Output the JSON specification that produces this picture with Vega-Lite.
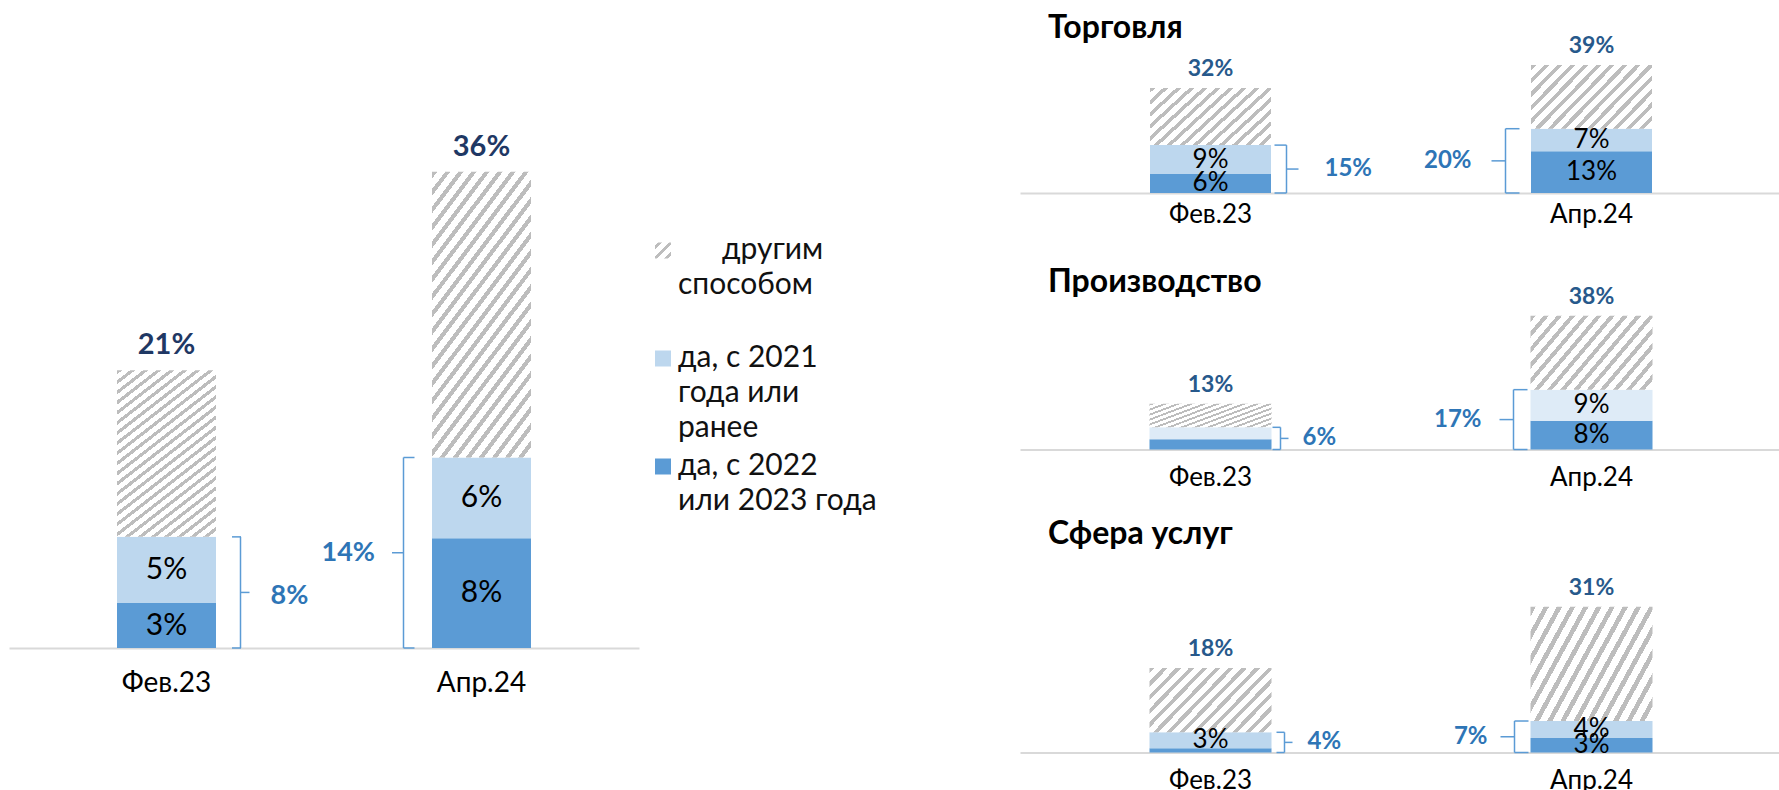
{
"$schema": "https://vega.github.io/schema/vega-lite/v6.json",
"background": "white",
"padding": {"left": 9, "top": 12, "right": 0, "bottom": 0},
"params": [
{"name": "hatchM", "value": {"gradient": "linear", "x1": 0, "y1": 0, "x2": 0.555, "y2": 1.205, "stops": [
{"offset":0,"color":"#bdbdbd"},{"offset":0.0167,"color":"#bdbdbd"},{"offset":0.0167,"color":"#ffffff"},{"offset":0.0417,"color":"#ffffff"},
{"offset":0.0417,"color":"#bdbdbd"},{"offset":0.0583,"color":"#bdbdbd"},{"offset":0.0583,"color":"#ffffff"},{"offset":0.0833,"color":"#ffffff"},
{"offset":0.0833,"color":"#bdbdbd"},{"offset":0.1,"color":"#bdbdbd"},{"offset":0.1,"color":"#ffffff"},{"offset":0.125,"color":"#ffffff"},
{"offset":0.125,"color":"#bdbdbd"},{"offset":0.1417,"color":"#bdbdbd"},{"offset":0.1417,"color":"#ffffff"},{"offset":0.1667,"color":"#ffffff"},
{"offset":0.1667,"color":"#bdbdbd"},{"offset":0.1833,"color":"#bdbdbd"},{"offset":0.1833,"color":"#ffffff"},{"offset":0.2083,"color":"#ffffff"},
{"offset":0.2083,"color":"#bdbdbd"},{"offset":0.225,"color":"#bdbdbd"},{"offset":0.225,"color":"#ffffff"},{"offset":0.25,"color":"#ffffff"},
{"offset":0.25,"color":"#bdbdbd"},{"offset":0.2667,"color":"#bdbdbd"},{"offset":0.2667,"color":"#ffffff"},{"offset":0.2917,"color":"#ffffff"},
{"offset":0.2917,"color":"#bdbdbd"},{"offset":0.3083,"color":"#bdbdbd"},{"offset":0.3083,"color":"#ffffff"},{"offset":0.3333,"color":"#ffffff"},
{"offset":0.3333,"color":"#bdbdbd"},{"offset":0.35,"color":"#bdbdbd"},{"offset":0.35,"color":"#ffffff"},{"offset":0.375,"color":"#ffffff"},
{"offset":0.375,"color":"#bdbdbd"},{"offset":0.3917,"color":"#bdbdbd"},{"offset":0.3917,"color":"#ffffff"},{"offset":0.4167,"color":"#ffffff"},
{"offset":0.4167,"color":"#bdbdbd"},{"offset":0.4333,"color":"#bdbdbd"},{"offset":0.4333,"color":"#ffffff"},{"offset":0.4583,"color":"#ffffff"},
{"offset":0.4583,"color":"#bdbdbd"},{"offset":0.475,"color":"#bdbdbd"},{"offset":0.475,"color":"#ffffff"},{"offset":0.5,"color":"#ffffff"},
{"offset":0.5,"color":"#bdbdbd"},{"offset":0.5167,"color":"#bdbdbd"},{"offset":0.5167,"color":"#ffffff"},{"offset":0.5417,"color":"#ffffff"},
{"offset":0.5417,"color":"#bdbdbd"},{"offset":0.5583,"color":"#bdbdbd"},{"offset":0.5583,"color":"#ffffff"},{"offset":0.5833,"color":"#ffffff"},
{"offset":0.5833,"color":"#bdbdbd"},{"offset":0.6,"color":"#bdbdbd"},{"offset":0.6,"color":"#ffffff"},{"offset":0.625,"color":"#ffffff"},
{"offset":0.625,"color":"#bdbdbd"},{"offset":0.6417,"color":"#bdbdbd"},{"offset":0.6417,"color":"#ffffff"},{"offset":0.6667,"color":"#ffffff"},
{"offset":0.6667,"color":"#bdbdbd"},{"offset":0.6833,"color":"#bdbdbd"},{"offset":0.6833,"color":"#ffffff"},{"offset":0.7083,"color":"#ffffff"},
{"offset":0.7083,"color":"#bdbdbd"},{"offset":0.725,"color":"#bdbdbd"},{"offset":0.725,"color":"#ffffff"},{"offset":0.75,"color":"#ffffff"},
{"offset":0.75,"color":"#bdbdbd"},{"offset":0.7667,"color":"#bdbdbd"},{"offset":0.7667,"color":"#ffffff"},{"offset":0.7917,"color":"#ffffff"},
{"offset":0.7917,"color":"#bdbdbd"},{"offset":0.8083,"color":"#bdbdbd"},{"offset":0.8083,"color":"#ffffff"},{"offset":0.8333,"color":"#ffffff"},
{"offset":0.8333,"color":"#bdbdbd"},{"offset":0.85,"color":"#bdbdbd"},{"offset":0.85,"color":"#ffffff"},{"offset":0.875,"color":"#ffffff"},
{"offset":0.875,"color":"#bdbdbd"},{"offset":0.8917,"color":"#bdbdbd"},{"offset":0.8917,"color":"#ffffff"},{"offset":0.9167,"color":"#ffffff"},
{"offset":0.9167,"color":"#bdbdbd"},{"offset":0.9333,"color":"#bdbdbd"},{"offset":0.9333,"color":"#ffffff"},{"offset":0.9583,"color":"#ffffff"},
{"offset":0.9583,"color":"#bdbdbd"},{"offset":0.975,"color":"#bdbdbd"},{"offset":0.975,"color":"#ffffff"},{"offset":1,"color":"#ffffff"}]}},
{"name": "hatchR", "value": {"gradient": "linear", "x1": 0, "y1": 0, "x2": 1.198, "y2": 0.614, "stops": [
{"offset":0,"color":"#bdbdbd"},{"offset":0.0286,"color":"#bdbdbd"},{"offset":0.0286,"color":"#ffffff"},{"offset":0.0714,"color":"#ffffff"},
{"offset":0.0714,"color":"#bdbdbd"},{"offset":0.1,"color":"#bdbdbd"},{"offset":0.1,"color":"#ffffff"},{"offset":0.1429,"color":"#ffffff"},
{"offset":0.1429,"color":"#bdbdbd"},{"offset":0.1714,"color":"#bdbdbd"},{"offset":0.1714,"color":"#ffffff"},{"offset":0.2143,"color":"#ffffff"},
{"offset":0.2143,"color":"#bdbdbd"},{"offset":0.2429,"color":"#bdbdbd"},{"offset":0.2429,"color":"#ffffff"},{"offset":0.2857,"color":"#ffffff"},
{"offset":0.2857,"color":"#bdbdbd"},{"offset":0.3143,"color":"#bdbdbd"},{"offset":0.3143,"color":"#ffffff"},{"offset":0.3571,"color":"#ffffff"},
{"offset":0.3571,"color":"#bdbdbd"},{"offset":0.3857,"color":"#bdbdbd"},{"offset":0.3857,"color":"#ffffff"},{"offset":0.4286,"color":"#ffffff"},
{"offset":0.4286,"color":"#bdbdbd"},{"offset":0.4571,"color":"#bdbdbd"},{"offset":0.4571,"color":"#ffffff"},{"offset":0.5,"color":"#ffffff"},
{"offset":0.5,"color":"#bdbdbd"},{"offset":0.5286,"color":"#bdbdbd"},{"offset":0.5286,"color":"#ffffff"},{"offset":0.5714,"color":"#ffffff"},
{"offset":0.5714,"color":"#bdbdbd"},{"offset":0.6,"color":"#bdbdbd"},{"offset":0.6,"color":"#ffffff"},{"offset":0.6429,"color":"#ffffff"},
{"offset":0.6429,"color":"#bdbdbd"},{"offset":0.6714,"color":"#bdbdbd"},{"offset":0.6714,"color":"#ffffff"},{"offset":0.7143,"color":"#ffffff"},
{"offset":0.7143,"color":"#bdbdbd"},{"offset":0.7429,"color":"#bdbdbd"},{"offset":0.7429,"color":"#ffffff"},{"offset":0.7857,"color":"#ffffff"},
{"offset":0.7857,"color":"#bdbdbd"},{"offset":0.8143,"color":"#bdbdbd"},{"offset":0.8143,"color":"#ffffff"},{"offset":0.8571,"color":"#ffffff"},
{"offset":0.8571,"color":"#bdbdbd"},{"offset":0.8857,"color":"#bdbdbd"},{"offset":0.8857,"color":"#ffffff"},{"offset":0.9286,"color":"#ffffff"},
{"offset":0.9286,"color":"#bdbdbd"},{"offset":0.9571,"color":"#bdbdbd"},{"offset":0.9571,"color":"#ffffff"},{"offset":1,"color":"#ffffff"}]}},
{"name": "hatchL", "value": {"gradient": "linear", "x1": 0, "y1": 0, "x2": 1, "y2": 1, "stops": [
{"offset":0,"color":"#ffffff"},{"offset":0.1,"color":"#ffffff"},{"offset":0.1,"color":"#bdbdbd"},{"offset":0.233,"color":"#bdbdbd"},{"offset":0.233,"color":"#ffffff"},
{"offset":0.433,"color":"#ffffff"},{"offset":0.433,"color":"#bdbdbd"},{"offset":0.567,"color":"#bdbdbd"},{"offset":0.567,"color":"#ffffff"},
{"offset":0.767,"color":"#ffffff"},{"offset":0.767,"color":"#bdbdbd"},{"offset":0.9,"color":"#bdbdbd"},{"offset":0.9,"color":"#ffffff"},{"offset":1,"color":"#ffffff"}]}}
],
"datasets": {
"main": [
{"d":"Фев.23","s":"да, с 2022 или 2023 года","o":1,"v":0.034},
{"d":"Фев.23","s":"да, с 2021 года или ранее","o":2,"v":0.05},
{"d":"Фев.23","s":"другим способом","o":3,"v":0.126},
{"d":"Апр.24","s":"да, с 2022 или 2023 года","o":1,"v":0.083},
{"d":"Апр.24","s":"да, с 2021 года или ранее","o":2,"v":0.061},
{"d":"Апр.24","s":"другим способом","o":3,"v":0.216}],
"trade": [
{"d":"Фев.23","s":"да, с 2022 или 2023 года","o":1,"v":0.058},
{"d":"Фев.23","s":"да, с 2021 года или ранее","o":2,"v":0.088},
{"d":"Фев.23","s":"другим способом","o":3,"v":0.174},
{"d":"Апр.24","s":"да, с 2022 или 2023 года","o":1,"v":0.127},
{"d":"Апр.24","s":"да, с 2021 года или ранее","o":2,"v":0.069},
{"d":"Апр.24","s":"другим способом","o":3,"v":0.194}],
"prod": [
{"d":"Фев.23","s":"да, с 2022 или 2023 года","o":1,"v":0.029},
{"d":"Фев.23","s":"да, с 2021 года или ранее","o":2,"v":0.034},
{"d":"Фев.23","s":"другим способом","o":3,"v":0.067},
{"d":"Апр.24","s":"да, с 2022 или 2023 года","o":1,"v":0.082},
{"d":"Апр.24","s":"да, с 2021 года или ранее","o":2,"v":0.088},
{"d":"Апр.24","s":"другим способом","o":3,"v":0.21}],
"serv": [
{"d":"Фев.23","s":"да, с 2022 или 2023 года","o":1,"v":0.009},
{"d":"Фев.23","s":"да, с 2021 года или ранее","o":2,"v":0.034},
{"d":"Фев.23","s":"другим способом","o":3,"v":0.137},
{"d":"Апр.24","s":"да, с 2022 или 2023 года","o":1,"v":0.031},
{"d":"Апр.24","s":"да, с 2021 года или ранее","o":2,"v":0.036},
{"d":"Апр.24","s":"другим способом","o":3,"v":0.243}],
"leg": [
{"s":"другим способом","o":3,"lbl":"\u2800\u2800другим\nспособом"},
{"s":"да, с 2021 года или ранее","o":2,"lbl":"да, с 2021\nгода или\nранее"},
{"s":"да, с 2022 или 2023 года","o":1,"lbl":"\u2009да, с 2022\nили 2023 года"}]
},
"hconcat": [
{"width": 630, "height": 603,
 "data": {"name": "main"},
 "transform": [{"stack": "v", "groupby": ["d"], "sort": [{"field": "o", "order": "ascending"}], "as": ["y0", "y1"]}],
 "encoding": {"x": {"field": "d", "type": "nominal", "sort": null, "scale": {"domain": ["Фев.23", "Апр.24"], "paddingInner": 0, "paddingOuter": 0}, "axis": {"title": null, "labelFontSize": 28, "labelPadding": 21}}},
 "layer": [
  {"transform": [{"filter": "datum.o < 3"}], "mark": {"type": "bar", "width": 99}, "encoding": {"y": {"field": "y1", "type": "quantitative", "scale": {"domain": [0, 0.4558], "nice": false}, "axis": null}, "y2": {"field": "y0"}, "color": {"field": "s", "type": "nominal", "scale": {"domain": ["да, с 2022 или 2023 года", "да, с 2021 года или ранее"], "range": ["#5b9bd5", "#bdd7ee"]}, "legend": null}}},
  {"transform": [{"filter": "datum.o == 3"}], "mark": {"type": "bar", "width": 99, "fill": {"expr": "hatchM"}}, "encoding": {"y": {"field": "y1", "type": "quantitative", "scale": {"domain": [0, 0.4558], "nice": false}}, "y2": {"field": "y0"}}},
  {"transform": [{"filter": "datum.o < 3"}, {"fold": ["y0", "y1"], "as": ["k", "vv"]}], "mark": {"type": "text", "fontSize": 30, "baseline": "middle", "color": "#000000"}, "encoding": {"y": {"aggregate": "mean", "field": "vv", "type": "quantitative", "scale": {"domain": [0, 0.4558], "nice": false}}, "text": {"field": "v", "type": "quantitative", "format": ".0%"}, "detail": {"field": "s"}}},
  {"mark": {"type": "text", "fontSize": 29, "fontWeight": "bold", "color": "#1f3864", "baseline": "alphabetic", "dy": -16}, "encoding": {"y": {"aggregate": "max", "field": "y1", "type": "quantitative", "scale": {"domain": [0, 0.4558], "nice": false}}, "text": {"aggregate": "sum", "field": "v", "type": "quantitative", "format": ".0%"}}},
  {"transform": [{"filter": "datum.o < 3 && datum.d == 'Фев.23'"}], "mark": {"type": "rule", "xOffset": 74}, "encoding": {"y": {"aggregate": "max", "field": "y1", "type": "quantitative", "scale": {"domain": [0, 0.4558], "nice": false}}, "y2": {"aggregate": "min", "field": "y0"}}},
  {"transform": [{"filter": "datum.o < 3 && datum.d == 'Фев.23'"}, {"aggregate": [{"op": "min", "field": "y0", "as": "lo"}, {"op": "max", "field": "y1", "as": "hi"}], "groupby": ["d"]}, {"fold": ["lo", "hi"], "as": ["k", "vv"]}], "mark": {"type": "tick", "size": 9, "xOffset": 70, "opacity": 1}, "encoding": {"y": {"field": "vv", "type": "quantitative", "scale": {"domain": [0, 0.4558], "nice": false}}}},
  {"transform": [{"filter": "datum.o < 3 && datum.d == 'Фев.23'"}, {"aggregate": [{"op": "min", "field": "y0", "as": "lo"}, {"op": "max", "field": "y1", "as": "hi"}], "groupby": ["d"]}, {"fold": ["lo", "hi"], "as": ["k", "vv"]}], "mark": {"type": "tick", "size": 9, "xOffset": 78.5, "opacity": 1}, "encoding": {"y": {"aggregate": "mean", "field": "vv", "type": "quantitative", "scale": {"domain": [0, 0.4558], "nice": false}}}},
  {"transform": [{"filter": "datum.o < 3 && datum.d == 'Фев.23'"}, {"aggregate": [{"op": "min", "field": "y0", "as": "lo"}, {"op": "max", "field": "y1", "as": "hi"}], "groupby": ["d"]}, {"fold": ["lo", "hi"], "as": ["k", "vv"]}], "mark": {"type": "text", "align": "left", "baseline": "middle", "dx": 104, "dy": 4, "fontSize": 27, "fontWeight": "bold", "color": "#2e75b6"}, "encoding": {"y": {"aggregate": "mean", "field": "vv", "type": "quantitative", "scale": {"domain": [0, 0.4558], "nice": false}}, "text": {"aggregate": "max", "field": "vv", "type": "quantitative", "format": ".0%"}}},
  {"transform": [{"filter": "datum.o < 3 && datum.d == 'Апр.24'"}], "mark": {"type": "rule", "xOffset": -78}, "encoding": {"y": {"aggregate": "max", "field": "y1", "type": "quantitative", "scale": {"domain": [0, 0.4558], "nice": false}}, "y2": {"aggregate": "min", "field": "y0"}}},
  {"transform": [{"filter": "datum.o < 3 && datum.d == 'Апр.24'"}, {"aggregate": [{"op": "min", "field": "y0", "as": "lo"}, {"op": "max", "field": "y1", "as": "hi"}], "groupby": ["d"]}, {"fold": ["lo", "hi"], "as": ["k", "vv"]}], "mark": {"type": "tick", "size": 11, "xOffset": -72.5, "opacity": 1}, "encoding": {"y": {"field": "vv", "type": "quantitative", "scale": {"domain": [0, 0.4558], "nice": false}}}},
  {"transform": [{"filter": "datum.o < 3 && datum.d == 'Апр.24'"}, {"aggregate": [{"op": "min", "field": "y0", "as": "lo"}, {"op": "max", "field": "y1", "as": "hi"}], "groupby": ["d"]}, {"fold": ["lo", "hi"], "as": ["k", "vv"]}], "mark": {"type": "tick", "size": 11, "xOffset": -84, "opacity": 1}, "encoding": {"y": {"aggregate": "mean", "field": "vv", "type": "quantitative", "scale": {"domain": [0, 0.4558], "nice": false}}}},
  {"transform": [{"filter": "datum.o < 3 && datum.d == 'Апр.24'"}, {"aggregate": [{"op": "min", "field": "y0", "as": "lo"}, {"op": "max", "field": "y1", "as": "hi"}], "groupby": ["d"]}, {"fold": ["lo", "hi"], "as": ["k", "vv"]}], "mark": {"type": "text", "align": "right", "baseline": "middle", "dx": -106.5, "fontSize": 27, "fontWeight": "bold", "color": "#2e75b6"}, "encoding": {"y": {"aggregate": "mean", "field": "vv", "type": "quantitative", "scale": {"domain": [0, 0.4558], "nice": false}}, "text": {"aggregate": "max", "field": "vv", "type": "quantitative", "format": ".0%"}}}
 ]},
{"width": 380.5, "height": 500,
 "data": {"name": "leg"},
 "encoding": {"y": {"field": "s", "type": "nominal", "sort": null, "scale": {"type": "point", "domain": ["другим способом", "да, с 2021 года или ранее", "да, с 2022 или 2023 года"], "range": [205.5, 421.5], "padding": 0}, "axis": null}},
 "layer": [
  {"transform": [{"filter": "datum.o < 3"}], "mark": {"type": "square", "size": 256, "opacity": 1, "xOffset": -166.25}, "encoding": {"color": {"field": "s", "type": "nominal", "scale": {"domain": ["да, с 2022 или 2023 года", "да, с 2021 года или ранее"], "range": ["#5b9bd5", "#bdd7ee"]}, "legend": null}}},
  {"transform": [{"filter": "datum.o == 3"}], "mark": {"type": "square", "size": 256, "opacity": 1, "xOffset": -166.25, "fill": {"expr": "hatchL"}}},
  {"mark": {"type": "text", "align": "left", "baseline": "top", "dx": -151.25, "dy": -16, "lineBreak": "\n", "lineHeight": 35, "fontSize": 30, "color": "#111111"}, "encoding": {"text": {"field": "lbl"}}}
 ]},
{"vconcat": [
{"width": 762, "height": 148,
 "title": {"text": "Торговля", "offset": -10},
 "data": {"name": "trade"},
 "transform": [{"stack": "v", "groupby": ["d"], "sort": [{"field": "o", "order": "ascending"}], "as": ["y0", "y1"]}],
 "encoding": {"x": {"field": "d", "type": "nominal", "sort": null, "scale": {"domain": ["Фев.23", "Апр.24"], "paddingInner": 0, "paddingOuter": 0}, "axis": {"title": null, "labelFontSize": 26, "labelPadding": 8}}},
 "layer": [
  {"transform": [{"filter": "datum.o < 3"}], "mark": {"type": "bar", "width": 121}, "encoding": {"y": {"field": "y1", "type": "quantitative", "scale": {"domain": [0, 0.4512], "nice": false}, "axis": null}, "y2": {"field": "y0"}, "color": {"field": "s", "type": "nominal", "scale": {"domain": ["да, с 2022 или 2023 года", "да, с 2021 года или ранее"], "range": ["#5b9bd5", "#bdd7ee"]}, "legend": null}}},
  {"transform": [{"filter": "datum.o == 3"}], "mark": {"type": "bar", "width": 121, "fill": {"expr": "hatchR"}}, "encoding": {"y": {"field": "y1", "type": "quantitative", "scale": {"domain": [0, 0.4512], "nice": false}}, "y2": {"field": "y0"}}},
  {"transform": [{"filter": "datum.o < 3"}, {"fold": ["y0", "y1"], "as": ["k", "vv"]}], "mark": {"type": "text", "fontSize": 26, "baseline": "middle", "color": "#000000"}, "encoding": {"y": {"aggregate": "mean", "field": "vv", "type": "quantitative", "scale": {"domain": [0, 0.4512], "nice": false}}, "text": {"field": "v", "type": "quantitative", "format": ".0%"}, "detail": {"field": "s"}}},
  {"mark": {"type": "text", "fontSize": 23, "fontWeight": "bold", "color": "#27598b", "baseline": "alphabetic", "dy": -12}, "encoding": {"y": {"aggregate": "max", "field": "y1", "type": "quantitative", "scale": {"domain": [0, 0.4512], "nice": false}}, "text": {"aggregate": "sum", "field": "v", "type": "quantitative", "format": ".0%"}}},
  {"transform": [{"filter": "datum.o < 3 && datum.d == 'Фев.23'"}], "mark": {"type": "rule", "xOffset": 76}, "encoding": {"y": {"aggregate": "max", "field": "y1", "type": "quantitative", "scale": {"domain": [0, 0.4512], "nice": false}}, "y2": {"aggregate": "min", "field": "y0"}}},
  {"transform": [{"filter": "datum.o < 3 && datum.d == 'Фев.23'"}, {"aggregate": [{"op": "min", "field": "y0", "as": "lo"}, {"op": "max", "field": "y1", "as": "hi"}], "groupby": ["d"]}, {"fold": ["lo", "hi"], "as": ["k", "vv"]}], "mark": {"type": "tick", "size": 12, "xOffset": 70, "opacity": 1}, "encoding": {"y": {"field": "vv", "type": "quantitative", "scale": {"domain": [0, 0.4512], "nice": false}}}},
  {"transform": [{"filter": "datum.o < 3 && datum.d == 'Фев.23'"}, {"aggregate": [{"op": "min", "field": "y0", "as": "lo"}, {"op": "max", "field": "y1", "as": "hi"}], "groupby": ["d"]}, {"fold": ["lo", "hi"], "as": ["k", "vv"]}], "mark": {"type": "tick", "size": 12, "xOffset": 82, "opacity": 1}, "encoding": {"y": {"aggregate": "mean", "field": "vv", "type": "quantitative", "scale": {"domain": [0, 0.4512], "nice": false}}}},
  {"transform": [{"filter": "datum.o < 3 && datum.d == 'Фев.23'"}, {"aggregate": [{"op": "min", "field": "y0", "as": "lo"}, {"op": "max", "field": "y1", "as": "hi"}], "groupby": ["d"]}, {"fold": ["lo", "hi"], "as": ["k", "vv"]}], "mark": {"type": "text", "align": "left", "baseline": "middle", "dx": 114, "fontSize": 24, "fontWeight": "bold", "color": "#2e75b6"}, "encoding": {"y": {"aggregate": "mean", "field": "vv", "type": "quantitative", "scale": {"domain": [0, 0.4512], "nice": false}}, "text": {"aggregate": "max", "field": "vv", "type": "quantitative", "format": ".0%"}}},
  {"transform": [{"filter": "datum.o < 3 && datum.d == 'Апр.24'"}], "mark": {"type": "rule", "xOffset": -86}, "encoding": {"y": {"aggregate": "max", "field": "y1", "type": "quantitative", "scale": {"domain": [0, 0.4512], "nice": false}}, "y2": {"aggregate": "min", "field": "y0"}}},
  {"transform": [{"filter": "datum.o < 3 && datum.d == 'Апр.24'"}, {"aggregate": [{"op": "min", "field": "y0", "as": "lo"}, {"op": "max", "field": "y1", "as": "hi"}], "groupby": ["d"]}, {"fold": ["lo", "hi"], "as": ["k", "vv"]}], "mark": {"type": "tick", "size": 14, "xOffset": -79, "opacity": 1}, "encoding": {"y": {"field": "vv", "type": "quantitative", "scale": {"domain": [0, 0.4512], "nice": false}}}},
  {"transform": [{"filter": "datum.o < 3 && datum.d == 'Апр.24'"}, {"aggregate": [{"op": "min", "field": "y0", "as": "lo"}, {"op": "max", "field": "y1", "as": "hi"}], "groupby": ["d"]}, {"fold": ["lo", "hi"], "as": ["k", "vv"]}], "mark": {"type": "tick", "size": 14, "xOffset": -93, "opacity": 1}, "encoding": {"y": {"aggregate": "mean", "field": "vv", "type": "quantitative", "scale": {"domain": [0, 0.4512], "nice": false}}}},
  {"transform": [{"filter": "datum.o < 3 && datum.d == 'Апр.24'"}, {"aggregate": [{"op": "min", "field": "y0", "as": "lo"}, {"op": "max", "field": "y1", "as": "hi"}], "groupby": ["d"]}, {"fold": ["lo", "hi"], "as": ["k", "vv"]}], "mark": {"type": "text", "align": "right", "baseline": "middle", "dx": -120, "fontSize": 24, "fontWeight": "bold", "color": "#2e75b6"}, "encoding": {"y": {"aggregate": "mean", "field": "vv", "type": "quantitative", "scale": {"domain": [0, 0.4512], "nice": false}}, "text": {"aggregate": "max", "field": "vv", "type": "quantitative", "format": ".0%"}}}
 ]},
{"width": 762, "height": 156.5,
 "title": {"text": "Производство", "offset": -13},
 "data": {"name": "prod"},
 "transform": [{"stack": "v", "groupby": ["d"], "sort": [{"field": "o", "order": "ascending"}], "as": ["y0", "y1"]}],
 "encoding": {"x": {"field": "d", "type": "nominal", "sort": null, "scale": {"domain": ["Фев.23", "Апр.24"], "paddingInner": 0, "paddingOuter": 0}, "axis": {"title": null, "labelFontSize": 26, "labelPadding": 15}}},
 "layer": [
  {"transform": [{"filter": "datum.o < 3"}], "mark": {"type": "bar", "width": 122}, "encoding": {"y": {"field": "y1", "type": "quantitative", "scale": {"domain": [0, 0.4446], "nice": false}, "axis": null}, "y2": {"field": "y0"}, "color": {"field": "s", "type": "nominal", "scale": {"domain": ["да, с 2022 или 2023 года", "да, с 2021 года или ранее"], "range": ["#5b9bd5", "#deebf7"]}, "legend": null}}},
  {"transform": [{"filter": "datum.o == 3"}], "mark": {"type": "bar", "width": 122, "fill": {"expr": "hatchR"}}, "encoding": {"y": {"field": "y1", "type": "quantitative", "scale": {"domain": [0, 0.4446], "nice": false}}, "y2": {"field": "y0"}}},
  {"transform": [{"filter": "datum.o < 3 && datum.d == 'Апр.24'"}, {"fold": ["y0", "y1"], "as": ["k", "vv"]}], "mark": {"type": "text", "fontSize": 26, "baseline": "middle", "color": "#000000"}, "encoding": {"y": {"aggregate": "mean", "field": "vv", "type": "quantitative", "scale": {"domain": [0, 0.4446], "nice": false}}, "text": {"field": "v", "type": "quantitative", "format": ".0%"}, "detail": {"field": "s"}}},
  {"mark": {"type": "text", "fontSize": 23, "fontWeight": "bold", "color": "#27598b", "baseline": "alphabetic", "dy": -12}, "encoding": {"y": {"aggregate": "max", "field": "y1", "type": "quantitative", "scale": {"domain": [0, 0.4446], "nice": false}}, "text": {"aggregate": "sum", "field": "v", "type": "quantitative", "format": ".0%"}}},
  {"transform": [{"filter": "datum.o < 3 && datum.d == 'Фев.23'"}], "mark": {"type": "rule", "xOffset": 70}, "encoding": {"y": {"aggregate": "max", "field": "y1", "type": "quantitative", "scale": {"domain": [0, 0.4446], "nice": false}}, "y2": {"aggregate": "min", "field": "y0"}}},
  {"transform": [{"filter": "datum.o < 3 && datum.d == 'Фев.23'"}, {"aggregate": [{"op": "min", "field": "y0", "as": "lo"}, {"op": "max", "field": "y1", "as": "hi"}], "groupby": ["d"]}, {"fold": ["lo", "hi"], "as": ["k", "vv"]}], "mark": {"type": "tick", "size": 8, "xOffset": 66, "opacity": 1}, "encoding": {"y": {"field": "vv", "type": "quantitative", "scale": {"domain": [0, 0.4446], "nice": false}}}},
  {"transform": [{"filter": "datum.o < 3 && datum.d == 'Фев.23'"}, {"aggregate": [{"op": "min", "field": "y0", "as": "lo"}, {"op": "max", "field": "y1", "as": "hi"}], "groupby": ["d"]}, {"fold": ["lo", "hi"], "as": ["k", "vv"]}], "mark": {"type": "tick", "size": 8, "xOffset": 74, "opacity": 1}, "encoding": {"y": {"aggregate": "mean", "field": "vv", "type": "quantitative", "scale": {"domain": [0, 0.4446], "nice": false}}}},
  {"transform": [{"filter": "datum.o < 3 && datum.d == 'Фев.23'"}, {"aggregate": [{"op": "min", "field": "y0", "as": "lo"}, {"op": "max", "field": "y1", "as": "hi"}], "groupby": ["d"]}, {"fold": ["lo", "hi"], "as": ["k", "vv"]}], "mark": {"type": "text", "align": "left", "baseline": "middle", "dx": 92, "fontSize": 24, "fontWeight": "bold", "color": "#2e75b6"}, "encoding": {"y": {"aggregate": "mean", "field": "vv", "type": "quantitative", "scale": {"domain": [0, 0.4446], "nice": false}}, "text": {"aggregate": "max", "field": "vv", "type": "quantitative", "format": ".0%"}}},
  {"transform": [{"filter": "datum.o < 3 && datum.d == 'Апр.24'"}], "mark": {"type": "rule", "xOffset": -78}, "encoding": {"y": {"aggregate": "max", "field": "y1", "type": "quantitative", "scale": {"domain": [0, 0.4446], "nice": false}}, "y2": {"aggregate": "min", "field": "y0"}}},
  {"transform": [{"filter": "datum.o < 3 && datum.d == 'Апр.24'"}, {"aggregate": [{"op": "min", "field": "y0", "as": "lo"}, {"op": "max", "field": "y1", "as": "hi"}], "groupby": ["d"]}, {"fold": ["lo", "hi"], "as": ["k", "vv"]}], "mark": {"type": "tick", "size": 14, "xOffset": -71, "opacity": 1}, "encoding": {"y": {"field": "vv", "type": "quantitative", "scale": {"domain": [0, 0.4446], "nice": false}}}},
  {"transform": [{"filter": "datum.o < 3 && datum.d == 'Апр.24'"}, {"aggregate": [{"op": "min", "field": "y0", "as": "lo"}, {"op": "max", "field": "y1", "as": "hi"}], "groupby": ["d"]}, {"fold": ["lo", "hi"], "as": ["k", "vv"]}], "mark": {"type": "tick", "size": 14, "xOffset": -85, "opacity": 1}, "encoding": {"y": {"aggregate": "mean", "field": "vv", "type": "quantitative", "scale": {"domain": [0, 0.4446], "nice": false}}}},
  {"transform": [{"filter": "datum.o < 3 && datum.d == 'Апр.24'"}, {"aggregate": [{"op": "min", "field": "y0", "as": "lo"}, {"op": "max", "field": "y1", "as": "hi"}], "groupby": ["d"]}, {"fold": ["lo", "hi"], "as": ["k", "vv"]}], "mark": {"type": "text", "align": "right", "baseline": "middle", "dx": -110, "fontSize": 24, "fontWeight": "bold", "color": "#2e75b6"}, "encoding": {"y": {"aggregate": "mean", "field": "vv", "type": "quantitative", "scale": {"domain": [0, 0.4446], "nice": false}}, "text": {"aggregate": "max", "field": "vv", "type": "quantitative", "format": ".0%"}}}
 ]},
{"width": 762, "height": 202.5,
 "title": {"text": "Сфера услуг", "offset": -1},
 "data": {"name": "serv"},
 "transform": [{"stack": "v", "groupby": ["d"], "sort": [{"field": "o", "order": "ascending"}], "as": ["y0", "y1"]}],
 "encoding": {"x": {"field": "d", "type": "nominal", "sort": null, "scale": {"domain": ["Фев.23", "Апр.24"], "paddingInner": 0, "paddingOuter": 0}, "axis": {"title": null, "labelFontSize": 26, "labelPadding": 15}}},
 "layer": [
  {"transform": [{"filter": "datum.o < 3"}], "mark": {"type": "bar", "width": 122}, "encoding": {"y": {"field": "y1", "type": "quantitative", "scale": {"domain": [0, 0.4309], "nice": false}, "axis": null}, "y2": {"field": "y0"}, "color": {"field": "s", "type": "nominal", "scale": {"domain": ["да, с 2022 или 2023 года", "да, с 2021 года или ранее"], "range": ["#5b9bd5", "#bdd7ee"]}, "legend": null}}},
  {"transform": [{"filter": "datum.o == 3"}], "mark": {"type": "bar", "width": 122, "fill": {"expr": "hatchR"}}, "encoding": {"y": {"field": "y1", "type": "quantitative", "scale": {"domain": [0, 0.4309], "nice": false}}, "y2": {"field": "y0"}}},
  {"transform": [{"filter": "datum.o < 3 && datum.v >= 0.02"}, {"fold": ["y0", "y1"], "as": ["k", "vv"]}], "mark": {"type": "text", "fontSize": 26, "baseline": "middle", "color": "#000000"}, "encoding": {"y": {"aggregate": "mean", "field": "vv", "type": "quantitative", "scale": {"domain": [0, 0.4309], "nice": false}}, "text": {"field": "v", "type": "quantitative", "format": ".0%"}, "detail": {"field": "s"}}},
  {"mark": {"type": "text", "fontSize": 23, "fontWeight": "bold", "color": "#27598b", "baseline": "alphabetic", "dy": -12}, "encoding": {"y": {"aggregate": "max", "field": "y1", "type": "quantitative", "scale": {"domain": [0, 0.4309], "nice": false}}, "text": {"aggregate": "sum", "field": "v", "type": "quantitative", "format": ".0%"}}},
  {"transform": [{"filter": "datum.o < 3 && datum.d == 'Фев.23'"}], "mark": {"type": "rule", "xOffset": 74}, "encoding": {"y": {"aggregate": "max", "field": "y1", "type": "quantitative", "scale": {"domain": [0, 0.4309], "nice": false}}, "y2": {"aggregate": "min", "field": "y0"}}},
  {"transform": [{"filter": "datum.o < 3 && datum.d == 'Фев.23'"}, {"aggregate": [{"op": "min", "field": "y0", "as": "lo"}, {"op": "max", "field": "y1", "as": "hi"}], "groupby": ["d"]}, {"fold": ["lo", "hi"], "as": ["k", "vv"]}], "mark": {"type": "tick", "size": 8, "xOffset": 70, "opacity": 1}, "encoding": {"y": {"field": "vv", "type": "quantitative", "scale": {"domain": [0, 0.4309], "nice": false}}}},
  {"transform": [{"filter": "datum.o < 3 && datum.d == 'Фев.23'"}, {"aggregate": [{"op": "min", "field": "y0", "as": "lo"}, {"op": "max", "field": "y1", "as": "hi"}], "groupby": ["d"]}, {"fold": ["lo", "hi"], "as": ["k", "vv"]}], "mark": {"type": "tick", "size": 8, "xOffset": 78, "opacity": 1}, "encoding": {"y": {"aggregate": "mean", "field": "vv", "type": "quantitative", "scale": {"domain": [0, 0.4309], "nice": false}}}},
  {"transform": [{"filter": "datum.o < 3 && datum.d == 'Фев.23'"}, {"aggregate": [{"op": "min", "field": "y0", "as": "lo"}, {"op": "max", "field": "y1", "as": "hi"}], "groupby": ["d"]}, {"fold": ["lo", "hi"], "as": ["k", "vv"]}], "mark": {"type": "text", "align": "left", "baseline": "middle", "dx": 97, "fontSize": 24, "fontWeight": "bold", "color": "#2e75b6"}, "encoding": {"y": {"aggregate": "mean", "field": "vv", "type": "quantitative", "scale": {"domain": [0, 0.4309], "nice": false}}, "text": {"aggregate": "max", "field": "vv", "type": "quantitative", "format": ".0%"}}},
  {"transform": [{"filter": "datum.o < 3 && datum.d == 'Апр.24'"}], "mark": {"type": "rule", "xOffset": -77}, "encoding": {"y": {"aggregate": "max", "field": "y1", "type": "quantitative", "scale": {"domain": [0, 0.4309], "nice": false}}, "y2": {"aggregate": "min", "field": "y0"}}},
  {"transform": [{"filter": "datum.o < 3 && datum.d == 'Апр.24'"}, {"aggregate": [{"op": "min", "field": "y0", "as": "lo"}, {"op": "max", "field": "y1", "as": "hi"}], "groupby": ["d"]}, {"fold": ["lo", "hi"], "as": ["k", "vv"]}], "mark": {"type": "tick", "size": 14, "xOffset": -70, "opacity": 1}, "encoding": {"y": {"field": "vv", "type": "quantitative", "scale": {"domain": [0, 0.4309], "nice": false}}}},
  {"transform": [{"filter": "datum.o < 3 && datum.d == 'Апр.24'"}, {"aggregate": [{"op": "min", "field": "y0", "as": "lo"}, {"op": "max", "field": "y1", "as": "hi"}], "groupby": ["d"]}, {"fold": ["lo", "hi"], "as": ["k", "vv"]}], "mark": {"type": "tick", "size": 14, "xOffset": -84, "opacity": 1}, "encoding": {"y": {"aggregate": "mean", "field": "vv", "type": "quantitative", "scale": {"domain": [0, 0.4309], "nice": false}}}},
  {"transform": [{"filter": "datum.o < 3 && datum.d == 'Апр.24'"}, {"aggregate": [{"op": "min", "field": "y0", "as": "lo"}, {"op": "max", "field": "y1", "as": "hi"}], "groupby": ["d"]}, {"fold": ["lo", "hi"], "as": ["k", "vv"]}], "mark": {"type": "text", "align": "right", "baseline": "middle", "dx": -104, "fontSize": 24, "fontWeight": "bold", "color": "#2e75b6"}, "encoding": {"y": {"aggregate": "mean", "field": "vv", "type": "quantitative", "scale": {"domain": [0, 0.4309], "nice": false}}, "text": {"aggregate": "max", "field": "vv", "type": "quantitative", "format": ".0%"}}}
 ]}
], "spacing": 100, "bounds": "flush", "resolve": {"scale": {"color": "independent"}}}
],
"spacing": 0,
"bounds": "flush",
"resolve": {"scale": {"color": "independent"}},
"config": {
 "view": {"stroke": null},
 "font": "Lato",
 "text": {"font": "Lato"},
 "rule": {"color": "#5b9bd5", "strokeWidth": 1.5},
 "tick": {"color": "#5b9bd5", "thickness": 1.5, "opacity": 1},
 "axis": {"domainColor": "#d9d9d9", "domainWidth": 2, "ticks": false, "tickSize": 0, "labelAngle": 0, "labelFont": "Lato", "labelColor": "#000000", "grid": false},
 "title": {"anchor": "start", "dx": 28, "baseline": "alphabetic", "font": "Lato", "fontSize": 32, "fontWeight": "bold", "color": "#000000"}
}
}
